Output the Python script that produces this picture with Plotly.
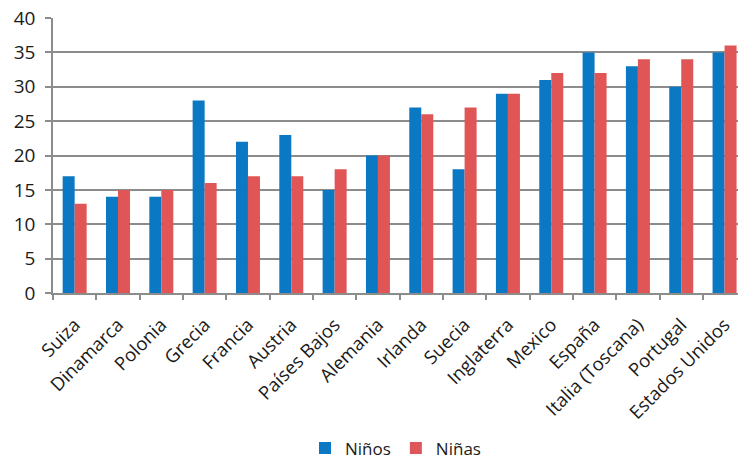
import plotly.graph_objects as go

paises = ["Suiza", "Dinamarca", "Polonia", "Grecia", "Francia", "Austria",
          "Países Bajos", "Alemania", "Irlanda", "Suecia", "Inglaterra",
          "Mexico", "España", "Italia (Toscana)", "Portugal", "Estados Unidos"]
ninos = [17, 14, 14, 28, 22, 23, 15, 20, 27, 18, 29, 31, 35, 33, 30, 35]
ninas = [13, 15, 15, 16, 17, 17, 18, 20, 26, 27, 29, 32, 32, 34, 34, 36]
y_ticks = [0, 5, 10, 15, 20, 25, 30, 35, 40]

AZUL = "#0a78c2"
ROJO = "#e05656"
GRIS = "#8c8c8c"
TEXTO = "#1a1a1a"
FUENTE = "Open Sans"

fig = go.Figure()
fig.add_trace(go.Bar(name="Niños", x=paises, y=ninos, marker_color=AZUL,
                     marker_line_width=0))
fig.add_trace(go.Bar(name="Niñas", x=paises, y=ninas, marker_color=ROJO,
                     marker_line_width=0))

fig.update_layout(
    width=738, height=463,
    margin=dict(l=53, r=0, t=18, b=170, autoexpand=False),
    paper_bgcolor="white", plot_bgcolor="white",
    barmode="group", bargap=0.446, bargroupgap=0,
    font=dict(family=FUENTE, size=16, color=TEXTO),
    legend=dict(orientation="h", x=0.5, xanchor="center", y=-0.565,
                yanchor="middle", font=dict(size=17), itemwidth=30,
                tracegroupgap=0, traceorder="normal"),
    xaxis=dict(
        range=[-0.5, 15.31], tickangle=-45, tickson="boundaries",
        ticks="outside", ticklen=5, tickcolor=GRIS, tickwidth=1.5,
        showline=True, linecolor=GRIS, linewidth=1.5,
        tickfont=dict(size=18.5, family=FUENTE, color=TEXTO),
        ticklabelstandoff=12,
        showgrid=False, automargin=False,
    ),
    yaxis=dict(
        range=[0, 40], tickvals=y_ticks, ticks="outside", ticklen=6,
        tickcolor=GRIS, tickwidth=1.5,
        showline=True, linecolor=GRIS, linewidth=1.5,
        showgrid=True, gridcolor=GRIS, gridwidth=1.5,
        zeroline=False, automargin=False, ticklabelstandoff=6,
        tickfont=dict(size=19, family=FUENTE, color=TEXTO),
    ),
)

fig.write_html("out.html")
